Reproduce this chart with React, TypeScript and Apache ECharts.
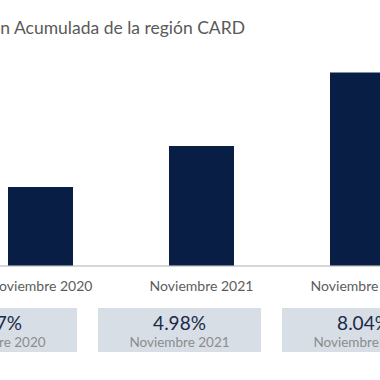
import React, { useEffect, useRef } from "react";
import * as echarts from "echarts";

const categories = ["Noviembre 2020", "Noviembre 2021", "Noviembre 2022"];
const values = [3.27, 4.98, 8.04];
const titleText = "Inflación Acumulada de la región CARD";

const FONT = "Lato, 'Open Sans', sans-serif";
const SHIFT = 40; // inner chart extends 40px left of visible frame

export default function App() {
  const ref = useRef<HTMLDivElement>(null);
  useEffect(() => {
    if (!ref.current) return;
    const chart = echarts.init(ref.current, null, { renderer: "svg" });
    const boxW = 163;
    const boxH = 44;
    const boxStep = 184;
    const boxX0 = -4.5 + SHIFT;
    const boxTop = 308;
    const boxes: any[] = [];
    values.forEach((v, i) => {
      const cx = boxX0 + i * boxStep;
      boxes.push({
        type: "rect",
        shape: { x: cx - boxW / 2, y: boxTop, width: boxW, height: boxH },
        style: { fill: "#d7dee6" },
        silent: true,
      });
      boxes.push({
        type: "text",
        x: cx,
        y: boxTop + 14,
        style: {
          text: v.toFixed(2) + "%",
          fill: "#1b2a48",
          font: `19px ${FONT}`,
          textAlign: "center",
          textVerticalAlign: "middle",
        },
      });
      boxes.push({
        type: "text",
        x: cx,
        y: boxTop + 34,
        style: {
          text: categories[i],
          fill: "#8c8c8c",
          font: `13.5px ${FONT}`,
          textAlign: "center",
          textVerticalAlign: "middle",
        },
      });
    });
    chart.setOption({
      animation: false,
      graphic: [
        {
          type: "text",
          x: 245 + SHIFT,
          y: 27,
          style: {
            text: titleText,
            fill: "#5a5a5a",
            font: `17.5px ${FONT}`,
            textAlign: "right",
            textVerticalAlign: "middle",
          },
        },
        ...boxes,
      ],
      grid: { left: 0, right: 0, top: 49.5, bottom: 114.5 },
      xAxis: {
        type: "category",
        data: categories,
        axisLine: { show: true, lineStyle: { color: "#c8c8c8", width: 1.5 } },
        axisTick: { show: false },
        axisLabel: {
          interval: 0,
          color: "#5c5c5c",
          fontSize: 14,
          fontFamily: FONT,
          margin: 13,
        },
      },
      yAxis: {
        type: "value",
        min: 0,
        max: 9,
        show: false,
        splitLine: { show: false },
      },
      series: [
        {
          type: "bar",
          data: values,
          barWidth: 65,
          itemStyle: { color: "#081e44" },
        },
      ],
    });
    return () => chart.dispose();
  }, []);
  return (
    <div
      style={{
        position: "absolute",
        left: 0,
        top: 0,
        width: 380,
        height: 380,
        overflow: "hidden",
      }}
    >
      <div
        ref={ref}
        style={{ position: "absolute", left: -SHIFT, top: 0, width: 483, height: 380 }}
      />
    </div>
  );
}
